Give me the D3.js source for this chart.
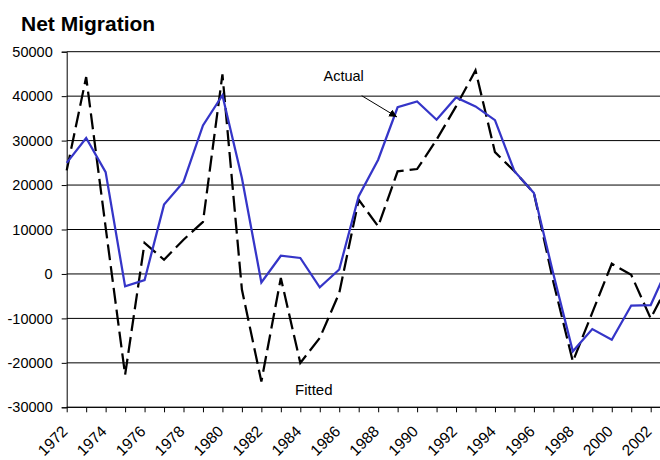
<!DOCTYPE html>
<html>
<head>
<meta charset="utf-8">
<script src="https://cdn.jsdelivr.net/npm/d3@7"></script>
<style>
  html, body { margin: 0; padding: 0; background: #fff; }
  svg { display: block; }
  text { font-family: Arial, "Liberation Sans", sans-serif; fill: #000; }
</style>
</head>
<body>
<svg id="chart" width="660" height="460"></svg>
<script>
const years = d3.range(1972, 2004);
const actual = [25000, 30600, 22900, -2800, -1400, 15600, 20700, 33400, 40200, 21600,
  -1900, 4100, 3600, -3000, 1000, 17500, 25700, 37500, 38800, 34700,
  39700, 37700, 34600, 23100, 18200, 0, -17400, -12400, -14800, -7100,
  -7000, 2700];
const fitted = [23300, 44300, 10500, -22700, 7000, 3200, 7700, 11700, 44900, -3500,
  -24200, -900, -20000, -14400, -4300, 16700, 10700, 23100, 23600, 30200,
  37700, 45800, 27400, 23100, 18200, -1800, -19700, -8700, 2300, -200,
  -10000, -1500];
const yTicks = [-30000, -20000, -10000, 0, 10000, 20000, 30000, 40000, 50000];
const xLabels = d3.range(1972, 2003, 2);

const svg = d3.select("#chart");
const x = d3.scaleLinear().domain([1972, 2002]).range([66.7, 650.7]);
const y = d3.scaleLinear().domain([-30000, 50000]).range([407.3, 51.7]);

// title
svg.append("text").attr("x", 21).attr("y", 31)
  .style("font-size", "21px").style("font-weight", "bold")
  .text("Net Migration");

// gridlines
svg.append("g").selectAll("line").data(yTicks).join("line")
  .attr("x1", x(1972)).attr("x2", 700)
  .attr("y1", d => y(d)).attr("y2", d => y(d))
  .attr("stroke", "#000").attr("stroke-width", 1);

// y axis
const yAxis = d3.axisLeft(y).tickValues(yTicks).tickSize(5).tickPadding(9)
  .tickFormat(d => String(d));
const gy = svg.append("g").attr("transform", `translate(${x(1972)},0)`).call(yAxis);
gy.select(".domain").attr("stroke", "#000");
gy.selectAll("text").style("font-size", "14.5px").style("font-family", "Arial, 'Liberation Sans', sans-serif");

// x axis
const xAxis = d3.axisBottom(x).tickValues(years).tickSize(5).tickFormat("");
const gx = svg.append("g").attr("transform", `translate(0,${y(-30000)})`).call(xAxis);
gx.select(".domain").attr("d", `M${x(1972)},0H700`).attr("stroke", "#000");

svg.append("g").selectAll("text").data(xLabels).join("text")
  .attr("transform", d => `translate(${x(d) + 2},${y(-30000) + 25}) rotate(-45)`)
  .attr("text-anchor", "end")
  .style("font-size", "15.5px")
  .text(d => d);

// lines
const line = d3.line().x((d, i) => x(years[i])).y(d => y(d));
svg.append("path").datum(fitted).attr("d", line)
  .attr("fill", "none").attr("stroke", "#000").attr("stroke-width", 2.25)
  .attr("stroke-dasharray", "16,6");
svg.append("path").datum(actual).attr("d", line)
  .attr("fill", "none").attr("stroke", "#3535c8").attr("stroke-width", 2.25)
  .attr("stroke-linejoin", "miter");

// annotations
svg.append("defs").append("marker").attr("id", "arr")
  .attr("viewBox", "0 0 10 10").attr("refX", 10).attr("refY", 5)
  .attr("markerWidth", 8).attr("markerHeight", 8).attr("orient", "auto")
  .attr("markerUnits", "userSpaceOnUse")
  .append("path").attr("d", "M0,0L10,5L0,10z").attr("fill", "#000");
svg.append("line").attr("x1", 361.7).attr("y1", 95.7).attr("x2", 397).attr("y2", 117)
  .attr("stroke", "#000").attr("stroke-width", 1).attr("marker-end", "url(#arr)");
svg.append("text").attr("x", 323.5).attr("y", 81).style("font-size", "14.5px").text("Actual");
svg.append("text").attr("x", 295).attr("y", 395).style("font-size", "15px").text("Fitted");
</script>
</body>
</html>
